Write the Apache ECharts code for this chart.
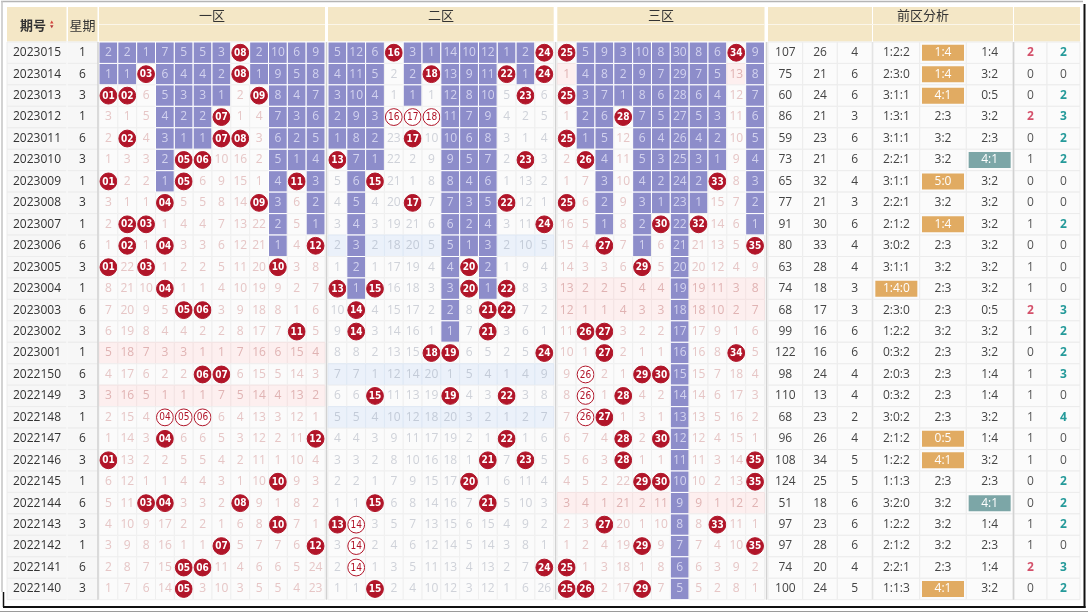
<!DOCTYPE html>
<html>
<head>
<meta charset="utf-8">
<style>
  html, body { margin: 0; padding: 0; background: #fff; }
  #chart { width: 1088px; height: 614px; }
</style>
<script src="https://cdn.jsdelivr.net/npm/echarts@6/dist/echarts.min.js"></script>
</head>
<body>
<div id="chart"></div>
<script>
// 期号 / 星期
var periods = ['2023015','2023014','2023013','2023012','2023011','2023010','2023009','2023008','2023007','2023006',
  '2023005','2023004','2023003','2023002','2023001','2022150','2022149','2022148','2022147','2022146',
  '2022145','2022144','2022143','2022142','2022141','2022140'];
var weekdays = [1,6,3,1,6,3,1,3,1,6, 3,1,6,3,1,6,3,1,6,3, 1,6,3,1,6,3];

// 前区开奖号码
var draws = [
  [8,16,24,25,34],[3,8,18,22,24],[1,2,9,23,25],[7,16,17,18,28],[2,7,8,17,25],
  [5,6,13,23,26],[1,5,11,15,33],[4,9,17,22,25],[2,3,24,30,32],[2,4,12,27,35],
  [1,3,10,20,29],[4,13,15,20,22],[5,6,14,21,22],[11,14,21,26,27],[18,19,24,27,34],
  [6,7,26,29,30],[15,19,22,26,28],[4,5,6,26,27],[4,12,22,28,30],[1,21,23,28,35],
  [10,20,29,30,35],[3,4,8,15,21],[10,13,14,27,33],[7,12,14,29,35],[5,6,14,24,25],
  [5,15,25,26,29]
];
// 三连走势的号码 (空心球): [行, 号码]
var hollowBalls = [[3,16],[3,17],[3,18],[15,26],[16,26],[17,4],[17,5],[17,6],[17,26],[22,14],[23,14],[24,14]];

// 遗漏值 (0 = 当期开出)
var missZone1 = [
  [2,2,1,7,5,5,3,0,2,10,6,9],[1,1,0,6,4,4,2,0,1,9,5,8],[0,0,6,5,3,3,1,2,0,8,4,7],[3,1,5,4,2,2,0,1,4,7,3,6],
  [2,0,4,3,1,1,0,0,3,6,2,5],[1,3,3,2,0,0,10,16,2,5,1,4],[0,2,2,1,0,6,9,15,1,4,0,3],[3,1,1,0,5,5,8,14,0,3,6,2],
  [2,0,0,1,4,4,7,13,22,2,5,1],[1,0,1,0,3,3,6,12,21,1,4,0],[0,22,0,1,2,2,5,11,20,0,3,8],[8,21,10,0,1,1,4,10,19,9,2,7],
  [7,20,9,5,0,0,3,9,18,8,1,6],[6,19,8,4,4,2,2,8,17,7,0,5],[5,18,7,3,3,1,1,7,16,6,15,4],[4,17,6,2,2,0,0,6,15,5,14,3],
  [3,16,5,1,1,1,7,5,14,4,13,2],[2,15,4,0,0,0,6,4,13,3,12,1],[1,14,3,0,6,6,5,3,12,2,11,0],[0,13,2,2,5,5,4,2,11,1,10,4],
  [6,12,1,1,4,4,3,1,10,0,9,3],[5,11,0,0,3,3,2,0,9,1,8,2],[4,10,9,17,2,2,1,6,8,0,7,1],[3,9,8,16,1,1,0,5,7,7,6,0],
  [2,8,7,15,0,0,11,4,6,6,5,24],[1,7,6,14,0,3,10,3,5,5,4,23]
];
var missZone2 = [
  [5,12,6,0,3,1,14,10,12,1,2,0],[4,11,5,2,2,0,13,9,11,0,1,0],[3,10,4,1,1,1,12,8,10,5,0,6],[2,9,3,0,0,0,11,7,9,4,2,5],
  [1,8,2,23,0,10,10,6,8,3,1,4],[0,7,1,22,2,9,9,5,7,2,0,3],[5,6,0,21,1,8,8,4,6,1,13,2],[4,5,4,20,0,7,7,3,5,0,12,1],
  [3,4,3,19,21,6,6,2,4,3,11,0],[2,3,2,18,20,5,5,1,3,2,10,5],[1,2,1,17,19,4,4,0,2,1,9,4],[0,1,0,16,18,3,3,0,1,0,8,3],
  [10,0,4,15,17,2,2,8,0,0,7,2],[9,0,3,14,16,1,1,7,0,3,6,1],[8,8,2,13,15,0,0,6,5,2,5,0],[7,7,1,12,14,20,1,5,4,1,4,9],
  [6,6,0,11,13,19,0,4,3,0,3,8],[5,5,4,10,12,18,20,3,2,1,2,7],[4,4,3,9,11,17,19,2,1,0,1,6],[3,3,2,8,10,16,18,1,0,7,0,5],
  [2,2,1,7,9,15,17,0,1,6,11,4],[1,1,0,6,8,14,16,7,0,5,10,3],[0,0,3,5,7,13,15,6,15,4,9,2],[3,0,2,4,6,12,14,5,14,3,8,1],
  [2,0,1,3,5,11,13,4,13,2,7,0],[1,1,0,2,4,10,12,3,12,1,6,26]
];
var missZone3 = [
  [0,5,9,3,10,8,30,8,6,0,9],[1,4,8,2,9,7,29,7,5,13,8],[0,3,7,1,8,6,28,6,4,12,7],[1,2,6,0,7,5,27,5,3,11,6],
  [0,1,5,12,6,4,26,4,2,10,5],[2,0,4,11,5,3,25,3,1,9,4],[1,7,3,10,4,2,24,2,0,8,3],[0,6,2,9,3,1,23,1,15,7,2],
  [16,5,1,8,2,0,22,0,14,6,1],[15,4,0,7,1,6,21,21,13,5,0],[14,3,3,6,0,5,20,20,12,4,9],[13,2,2,5,4,4,19,19,11,3,8],
  [12,1,1,4,3,3,18,18,10,2,7],[11,0,0,3,2,2,17,17,9,1,6],[10,1,0,2,1,1,16,16,8,0,5],[9,0,2,1,0,0,15,15,7,18,4],
  [8,0,1,0,4,2,14,14,6,17,3],[7,0,0,1,3,1,13,13,5,16,2],[6,7,4,0,2,0,12,12,4,15,1],[5,6,3,0,1,1,11,11,3,14,0],
  [4,5,2,22,0,0,10,10,2,13,0],[3,4,1,21,2,11,9,9,1,12,2],[2,3,0,20,1,10,8,8,0,11,1],[1,2,4,19,0,9,7,7,4,10,0],
  [0,1,3,18,1,8,6,6,3,9,2],[0,0,2,17,0,7,5,5,2,8,1]
];

// 前区分析
var sums = [107,75,60,86,59,73,65,77,91,80,63,74,68,99,122,98,110,68,96,108,124,51,97,97,74,100];
var spans = [26,21,24,21,23,21,32,21,30,33,28,18,17,16,16,24,13,23,26,34,25,18,23,28,20,24];
var acValues = [4,6,6,3,6,6,4,3,6,4,4,3,3,6,6,4,4,2,4,5,5,6,6,6,4,5];
var zoneRatios = ['1:2:2','2:3:0','3:1:1','1:3:1','3:1:1','2:2:1','3:1:1','2:2:1','2:1:2','3:0:2','3:1:1','1:4:0','2:3:0',
  '1:2:2','0:3:2','2:0:3','0:3:2','3:0:2','2:1:2','1:2:2','1:1:3','3:2:0','1:2:2','2:1:2','2:2:1','1:1:3'];
var oddEven = ['1:4','1:4','4:1','2:3','3:2','3:2','5:0','3:2','1:4','2:3','3:2','2:3','2:3',
  '3:2','2:3','2:3','2:3','2:3','0:5','4:1','2:3','3:2','3:2','3:2','2:3','4:1'];
var hotCold = ['1:4','3:2','0:5','3:2','2:3','4:1','3:2','3:2','3:2','3:2','3:2','3:2','0:5',
  '3:2','3:2','1:4','1:4','3:2','1:4','3:2','2:3','4:1','1:4','2:3','1:4','3:2'];
var repeats = [2,0,0,2,0,1,0,0,1,0,1,1,2,1,0,1,1,1,1,1,0,0,1,1,2,0];
var consecutive = [2,0,2,3,2,2,0,0,2,0,0,0,3,2,2,3,0,4,0,0,2,2,2,0,3,2];

// 表头
var zone1Labels = ['01','02','03','04','05','06','07','08','09','10','11','12'];
var zone2Labels = ['13','14','15','16','17','18','19','20','21','22','23','24'];
var zone3Labels = ['25','26','27','28','29','30','31','32','33','34','35'];
var statLabelsA = ['和值','跨度','AC值'];
var statLabelsB = ['区间比','奇偶比','冷热比'];
var statLabelsC = ['重号','连号'];

var chart = echarts.init(document.getElementById('chart'));

var N = periods.length;
var GRID_TOP = 42, GRID_H = 557.7, HEAD_TOP = 7;
var RED = '#b11529', PURPLE = '#8d8dca', BEIGE = '#f4e7c6';
var NUMFONT = '"Open Sans", "Noto Sans CJK SC", sans-serif';
var CJK = '"Noto Sans CJK SC", sans-serif';

function pad2(n) { return n < 10 ? '0' + n : '' + n; }
function isHollow(r, n) {
  return hollowBalls.some(function (h) { return h[0] === r && h[1] === n; });
}

// 每个号码区的单元格
function zoneCells(miss, firstNum, zoneTint, zoneText, tintText) {
  var cells = [];
  var cols = miss[0].length;
  for (var c = 0; c < cols; c++) {
    var num = firstNum + c;
    var streak = true;
    for (var r = 0; r < N; r++) {
      var hit = draws[r].indexOf(num) >= 0;
      if (hit) streak = false;
      var empty = !draws[r].some(function (d) { return d >= firstNum && d < firstNum + cols; });
      var cell = { col: c, row: r, bg: empty ? zoneTint : '#fbfbfb', stroke: empty ? '#f3e3e3' : '#efefef' };
      if (zoneTint === '#ebf1fa' && empty) cell.stroke = '#dfe8f4';
      if (hit) {
        cell.ball = isHollow(r, num) ? 'hollow' : 'filled';
        cell.text = pad2(num);
      } else {
        cell.text = String(miss[r][c]);
        cell.color = empty ? tintText : zoneText;
        if (streak) { cell.bg = PURPLE; cell.stroke = '#ffffff'; cell.color = '#d3d3ef'; }
      }
      cells.push(cell);
    }
  }
  return cells;
}

function textCells(columns, colors) {
  var cells = [];
  columns.forEach(function (col, c) {
    for (var r = 0; r < N; r++) {
      var st = colors(c, r, col[r]);
      cells.push({ col: c, row: r, bg: st.bg || '#fbfbfb', stroke: '#ececec', text: String(col[r]),
        color: st.color || '#444', bold: st.bold, badge: st.badge, font: st.font });
    }
  });
  return cells;
}

function renderCell(cells) {
  return function (params, api) {
    var c = cells[params.dataIndex];
    var p = api.coord([c.col, c.row]);
    var s = api.size([1, 1]);
    var w = s[0], h = s[1];
    var ch = [{
      type: 'rect',
      shape: { x: p[0] - w / 2, y: p[1] - h / 2, width: w, height: h },
      style: { fill: c.bg, stroke: c.stroke, lineWidth: 1 }
    }];
    if (c.ball) {
      var hollow = c.ball === 'hollow';
      ch.push({ type: 'circle', shape: { cx: p[0], cy: p[1], r: 8.4 },
        style: { fill: hollow ? '#fff' : RED, stroke: RED, lineWidth: 1 } });
      ch.push({ type: 'text', style: { text: c.text, x: p[0], y: p[1] + 0.5, align: 'center', verticalAlign: 'middle',
        fill: hollow ? RED : '#fff', font: (hollow ? '' : 'bold ') + '10px "DejaVu Sans Condensed", sans-serif' } });
    } else {
      if (c.badge) {
        ch.push({ type: 'rect', shape: { x: p[0] - 21, y: p[1] - 8, width: 42, height: 16 }, style: { fill: c.badge } });
      }
      ch.push({ type: 'text', style: { text: c.text, x: p[0], y: p[1], align: 'center', verticalAlign: 'middle',
        fill: c.color, font: (c.bold ? 'bold ' : '') + (c.font || ('12px ' + NUMFONT)) } });
    }
    return { type: 'group', children: ch };
  };
}

var sections = [
  { left: 7, width: 60, labels: ['期号'], showLabels: false,
    cells: textCells([periods], function () { return { bg: '#f7f7f7', color: '#333' }; }) },
  { left: 67, width: 31, labels: ['星期'], showLabels: false,
    cells: textCells([weekdays], function () { return { bg: '#f7f7f7', color: '#333' }; }) },
  { left: 99, width: 226, labels: zone1Labels, showLabels: true,
    cells: zoneCells(missZone1, 1, '#fdefef', '#e6c6c6', '#e0b3b3') },
  { left: 328, width: 225.7, labels: zone2Labels, showLabels: true,
    cells: zoneCells(missZone2, 13, '#ebf1fa', '#cfd2d9', '#c3cbd8') },
  { left: 557.3, width: 207.2, labels: zone3Labels, showLabels: true,
    cells: zoneCells(missZone3, 25, '#fdefef', '#e6c6c6', '#e0b3b3') },
  { left: 768, width: 104, labels: statLabelsA, showLabels: true,
    cells: textCells([sums, spans, acValues], function () { return {}; }) },
  { left: 873, width: 140, labels: statLabelsB, showLabels: true,
    cells: textCells([zoneRatios, oddEven, hotCold], function (c, r, v) {
      var parts = v.split(':').map(Number);
      if (c === 0 && Math.max.apply(null, parts) >= 4) return { badge: '#e1ab62', color: '#fff' };
      if (c === 1 && v !== '2:3' && v !== '3:2') return { badge: '#e1ab62', color: '#fff' };
      if (c === 2 && parts[0] >= 4) return { badge: '#7ca6a7', color: '#fff' };
      return {};
    }) },
  { left: 1014, width: 66, labels: statLabelsC, showLabels: true,
    cells: textCells([repeats, consecutive], function (c, r, v) {
      if (c === 0 && v >= 2) return { color: '#d4506a', bold: true };
      if (c === 1 && v > 0) return { color: '#259a9a', bold: true };
      return { color: '#555' };
    }) }
];

var grids = [], xAxes = [], yAxes = [], series = [];
sections.forEach(function (sec, i) {
  grids.push({ left: sec.left, top: GRID_TOP, width: sec.width, height: GRID_H });
  xAxes.push({
    gridIndex: i, type: 'category', position: 'top', data: sec.labels,
    axisLine: { show: false }, axisTick: { show: false }, splitLine: { show: false },
    axisLabel: { show: sec.showLabels, interval: 0, margin: 3, color: '#333', fontSize: 12,
      fontFamily: i >= 5 ? CJK : NUMFONT }
  });
  yAxes.push({
    gridIndex: i, type: 'category', inverse: true, data: periods, show: false
  });
  series.push({
    type: 'custom', xAxisIndex: i, yAxisIndex: i, silent: true,
    data: sec.cells.map(function (c) { return [c.col, c.row]; }),
    encode: { x: 0, y: 1 },
    renderItem: renderCell(sec.cells)
  });
});

// 表头背景与标题
var graphic = [];
function headRect(x, w) {
  graphic.push({ type: 'rect', z: 1, shape: { x: x, y: HEAD_TOP, width: w, height: GRID_TOP - HEAD_TOP - 0.5 }, style: { fill: BEIGE } });
}
headRect(7, 59.5); headRect(68, 29.5); headRect(99, 226); headRect(328, 225.7);
headRect(557.3, 207.2); headRect(768, 104); headRect(873, 140); headRect(1014, 66);
[[99, 226], [328, 225.7], [557.3, 207.2], [768, 312]].forEach(function (g) {
  graphic.push({ type: 'rect', z: 2, shape: { x: g[0], y: 24, width: g[1], height: 1 }, style: { fill: '#fbf6ea' } });
});
function headText(txt, x, y, bold) {
  graphic.push({ type: 'text', z: 3, style: { text: txt, x: x, y: y, align: 'center', verticalAlign: 'middle',
    fill: '#333', font: (bold ? 'bold ' : '') + '13px ' + CJK } });
}
headText('期号', 33, 25, true);
headText('星期', 82.5, 25);
headText('一区', 212, 15.5);
headText('二区', 441, 15.5);
headText('三区', 661, 15.5);
headText('前区分析', 923, 15.5);
// 排序图标
graphic.push({ type: 'polygon', z: 3, shape: { points: [[50, 23.6], [53.5, 23.6], [51.75, 20.6]] }, style: { fill: '#d6453d' } });
graphic.push({ type: 'polygon', z: 3, shape: { points: [[50, 25.2], [53.5, 25.2], [51.75, 28.2]] }, style: { fill: '#b5373a' } });

// 分区分隔线
[98, 326.5, 555.6, 766.5, 1013.5].forEach(function (x) {
  graphic.push({ type: 'line', z: 50, shape: { x1: x, y1: GRID_TOP, x2: x, y2: GRID_TOP + GRID_H }, style: { stroke: '#d2d2d2', lineWidth: 1.5 } });
});
graphic.push({ type: 'line', z: 50, shape: { x1: 67, y1: GRID_TOP, x2: 67, y2: GRID_TOP + GRID_H }, style: { stroke: '#ffffff', lineWidth: 1 } });
graphic.push({ type: 'line', z: 50, shape: { x1: 872.5, y1: GRID_TOP, x2: 872.5, y2: GRID_TOP + GRID_H }, style: { stroke: '#e4e4e4', lineWidth: 1 } });

// 外框
graphic.push({ type: 'line', z: 60, shape: { x1: 1, y1: 1.5, x2: 1083, y2: 1.5 }, style: { stroke: '#b5b5b5', lineWidth: 1.5 } });
graphic.push({ type: 'line', z: 60, shape: { x1: 2, y1: 1, x2: 2, y2: 592 }, style: { stroke: '#c4c4c4', lineWidth: 1.5 } });
graphic.push({ type: 'line', z: 60, shape: { x1: 1084.5, y1: 4, x2: 1084.5, y2: 608 }, style: { stroke: '#111', lineWidth: 2 } });
graphic.push({ type: 'line', z: 60, shape: { x1: 3, y1: 607, x2: 1085.5, y2: 607 }, style: { stroke: '#111', lineWidth: 2 } });
graphic.push({ type: 'line', z: 60, shape: { x1: 3.5, y1: 592, x2: 3.5, y2: 607 }, style: { stroke: '#111', lineWidth: 1.5 } });
graphic.push({ type: 'line', z: 60, shape: { x1: 0, y1: 611.5, x2: 1088, y2: 611.5 }, style: { stroke: '#9a9a9a', lineWidth: 1 } });

chart.setOption({
  animation: false,
  backgroundColor: '#ffffff',
  grid: grids,
  xAxis: xAxes,
  yAxis: yAxes,
  series: series,
  graphic: graphic
});
</script>
</body>
</html>
